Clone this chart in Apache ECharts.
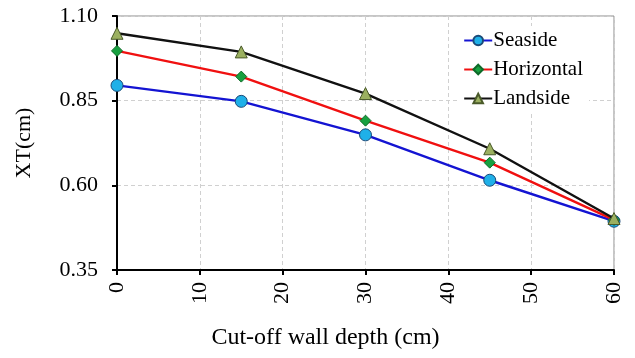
<!DOCTYPE html>
<html>
<head>
<meta charset="utf-8">
<script src="https://cdn.jsdelivr.net/npm/echarts@6/dist/echarts.min.js"></script>
<style>
  html, body { margin: 0; padding: 0; background: #fff; }
  #chart { width: 635px; height: 358px; }
</style>
</head>
<body>
<div id="chart"></div>
<script>
// Cut-off wall depth (cm)
const depths = [0, 15, 30, 45, 60];
// XT (cm) for each measurement side
const seaside = [0.895, 0.848, 0.749, 0.615, 0.494];
const horizontal = [0.997, 0.921, 0.791, 0.667, 0.498];
const landside = [1.049, 0.994, 0.871, 0.708, 0.502];

const font = '"Liberation Serif", "Times New Roman", serif';

function pairs(ys) {
  return depths.map((d, i) => [d, ys[i]]);
}

const chart = echarts.init(document.getElementById('chart'));
chart.setOption({
  animation: false,
  backgroundColor: '#fff',
  grid: {
    left: 117, right: 21, top: 16, bottom: 88,
    show: true, borderColor: '#8c8c8c', borderWidth: 1, backgroundColor: 'transparent'
  },
  legend: {
    right: 46, top: 26,
    orient: 'vertical',
    itemGap: 8,
    itemWidth: 28, itemHeight: 12,
    backgroundColor: '#fff',
    padding: [4, 6, 4, 4],
    textStyle: { fontFamily: font, fontSize: 21, color: '#000', padding: [0, 0, 0, -4] },
    data: ['Seaside', 'Horizontal', 'Landside']
  },
  xAxis: {
    type: 'value',
    min: 0, max: 60, interval: 10,
    name: 'Cut-off wall depth (cm)',
    nameLocation: 'middle',
    nameGap: 56,
    nameTextStyle: { fontFamily: font, fontSize: 24, color: '#000', padding: [0, 80, 0, 0] },
    axisLine: { lineStyle: { color: '#000', width: 2 } },
    axisTick: { show: true, length: 5, lineStyle: { color: '#000', width: 2 } },
    axisLabel: { rotate: 90, fontFamily: font, fontSize: 22, color: '#000', margin: 12 },
    splitLine: { show: true, lineStyle: { color: '#d0d0d0', type: [4, 3], width: 1 } }
  },
  yAxis: {
    type: 'value',
    min: 0.35, max: 1.10, interval: 0.25,
    name: 'XT(cm)',
    nameLocation: 'middle',
    nameGap: 82,
    nameTextStyle: { fontFamily: font, fontSize: 22, color: '#000' },
    axisLine: { show: true, lineStyle: { color: '#000', width: 2 } },
    axisTick: { show: true, length: 5, lineStyle: { color: '#000', width: 2 } },
    axisLabel: {
      fontFamily: font, fontSize: 22, color: '#000', margin: 19,
      formatter: v => v.toFixed(2)
    },
    splitLine: { show: true, lineStyle: { color: '#d0d0d0', type: [4, 3], width: 1 } }
  },
  series: [
    {
      name: 'Seaside', type: 'line', data: pairs(seaside),
      symbol: 'circle', symbolSize: 12,
      lineStyle: { color: '#1414d2', width: 2.4 },
      itemStyle: { color: '#1fb0e8', borderColor: '#1a4a78', borderWidth: 1 },
      z: 3
    },
    {
      name: 'Horizontal', type: 'line', data: pairs(horizontal),
      symbol: 'diamond', symbolSize: 11,
      lineStyle: { color: '#f01010', width: 2.4 },
      itemStyle: { color: '#18a040', borderColor: '#0d6a28', borderWidth: 1 },
      z: 4
    },
    {
      name: 'Landside', type: 'line', data: pairs(landside),
      symbol: 'triangle', symbolSize: 12,
      lineStyle: { color: '#111', width: 2.4 },
      itemStyle: { color: '#9bb060', borderColor: '#4a5a2a', borderWidth: 1 },
      z: 5
    }
  ]
});
</script>
</body>
</html>
